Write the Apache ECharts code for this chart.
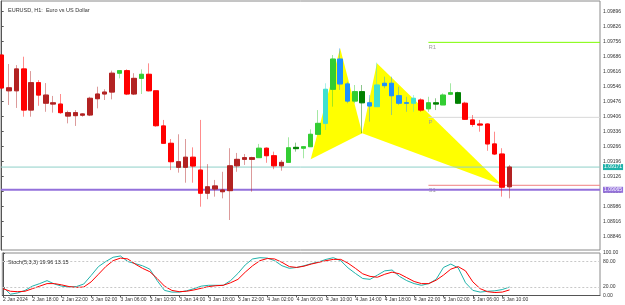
<!DOCTYPE html>
<html>
<head>
<meta charset="utf-8">
<script src="https://cdn.jsdelivr.net/npm/echarts@6/dist/echarts.min.js"></script>
<style>
  html, body { margin: 0; padding: 0; background: #fff; }
  #main { width: 625px; height: 305px; }
</style>
</head>
<body>
<div id="main"></div>
<script>
// EURUSD H1 candles, 2 Jan 14:00 .. 5 Jan 11:00
const opens = [1.09694, 1.09527, 1.09527, 1.09629, 1.09437, 1.09565, 1.09469, 1.09465, 1.09465, 1.09409,
  1.09411, 1.09413, 1.09414, 1.09490, 1.09512, 1.09521, 1.09609, 1.09621, 1.09512, 1.09585,
  1.09604, 1.09527, 1.09363, 1.09282, 1.09170, 1.09170, 1.09217, 1.09157, 1.09049, 1.09069,
  1.09056, 1.09061, 1.09177, 1.09207, 1.09207, 1.09215, 1.09259, 1.09224, 1.09177, 1.09193,
  1.09263, 1.09259, 1.09266, 1.09324, 1.09375, 1.09534, 1.09675, 1.09559, 1.09479, 1.09523,
  1.09471, 1.09453, 1.09562, 1.09562, 1.09504, 1.09471, 1.09469, 1.09484, 1.09443, 1.09471,
  1.09461, 1.09511, 1.09518, 1.09469, 1.09391, 1.09372, 1.09372, 1.09279, 1.09232, 1.09079]
const highs = [1.09694, 1.09652, 1.09647, 1.09686, 1.09619, 1.09577, 1.09563, 1.09503, 1.09512, 1.09434,
  1.09437, 1.09422, 1.09499, 1.09546, 1.09534, 1.09621, 1.09621, 1.09627, 1.09609, 1.09627,
  1.09655, 1.09527, 1.09391, 1.09302, 1.09324, 1.09302, 1.09263, 1.09391, 1.09185, 1.09111,
  1.09149, 1.09259, 1.09237, 1.09232, 1.09219, 1.09279, 1.09263, 1.09243, 1.09204, 1.09310,
  1.09285, 1.09269, 1.09347, 1.09437, 1.09562, 1.09694, 1.09725, 1.09569, 1.09554, 1.09554,
  1.09507, 1.09658, 1.09593, 1.09593, 1.09546, 1.09499, 1.09507, 1.09492, 1.09499, 1.09492,
  1.09515, 1.09562, 1.09523, 1.09476, 1.09414, 1.09391, 1.09375, 1.09336, 1.09259, 1.09181]
const lows = [1.09536, 1.09461, 1.09447, 1.09406, 1.09406, 1.09457, 1.09429, 1.09425, 1.09419, 1.09375,
  1.09363, 1.09406, 1.09409, 1.09445, 1.09484, 1.09487, 1.09585, 1.09507, 1.09507, 1.09512,
  1.09524, 1.09359, 1.09280, 1.09157, 1.09145, 1.09098, 1.09098, 1.08986, 1.09021, 1.09033,
  1.09025, 1.08924, 1.09149, 1.09181, 1.09056, 1.09215, 1.09191, 1.09161, 1.09154, 1.09193,
  1.09243, 1.09212, 1.09266, 1.09321, 1.09344, 1.09453, 1.09531, 1.09469, 1.09469, 1.09329,
  1.09383, 1.09453, 1.09539, 1.09414, 1.09461, 1.09429, 1.09429, 1.09429, 1.09429, 1.09437,
  1.09461, 1.09507, 1.09465, 1.09391, 1.09359, 1.09336, 1.09247, 1.09227, 1.09033, 1.09025]
const closes = [1.09540, 1.09541, 1.09629, 1.09437, 1.09565, 1.09507, 1.09507, 1.09471, 1.09425, 1.09425,
  1.09425, 1.09419, 1.09492, 1.09512, 1.09521, 1.09609, 1.09621, 1.09512, 1.09585, 1.09604,
  1.09527, 1.09364, 1.09282, 1.09196, 1.09196, 1.09217, 1.09176, 1.09049, 1.09079, 1.09083,
  1.09064, 1.09177, 1.09207, 1.09215, 1.09215, 1.09259, 1.09224, 1.09177, 1.09193, 1.09261,
  1.09257, 1.09266, 1.09324, 1.09375, 1.09534, 1.09675, 1.09559, 1.09479, 1.09523, 1.09471,
  1.09456, 1.09554, 1.09551, 1.09504, 1.09469, 1.09469, 1.09492, 1.09437, 1.09471, 1.09465,
  1.09507, 1.09518, 1.09469, 1.09394, 1.09370, 1.09367, 1.09279, 1.09232, 1.09077, 1.09171]
// candle colour state from the indicator: R down, r up (down regime), G up, g down (up regime), B down, T up (strong)
const states = ['R','r','r','R','r','R','r','r','R','r',
  'r','r','r','r','r','r','G','R','r','G',
  'R','R','R','R','r','r','R','R','r','r',
  'r','r','r','r','r','G','R','R','r','G',
  'g','G','G','G','T','G','B','B','G','g',
  'B','T','B','B','B','B','T','R','G','g',
  'G','G','g','R','R','R','R','R','R','r']

// Stoch(5,3,3)
const stochMain = [20, 3, 6, 12, 22, 28, 35, 27, 22, 20, 21, 27, 47, 68, 80, 90, 93, 80, 75, 70,
  62, 35, 12, 8, 8, 11, 16, 22, 24, 24, 24, 35, 52, 72, 86, 89, 88, 82, 70, 64,
  66, 70, 75, 79, 85, 89, 82, 65, 52, 40, 38, 48, 58, 60, 45, 35, 28, 24, 28, 38,
  66, 74, 65, 30, 12, 8, 10, 11, 14, 19.96]
const stochSignal = [16, 10, 9, 10, 16, 22, 28, 28, 25, 21, 19, 20, 32, 50, 68, 82, 88, 86, 74, 64,
  56, 40, 22, 12, 9, 10, 13, 17, 21, 23, 24, 30, 38, 55, 70, 82, 87, 86, 78, 68,
  66, 69, 74, 78, 82, 85, 85, 76, 64, 51, 45, 43, 50, 55, 51, 42, 33, 28, 28, 36,
  48, 62, 68, 58, 32, 16, 9, 7, 8, 13.15]

// harmonic pattern X A B C D (bar index, price)
const patternIdx = [42, 46, 49, 51, 68]
const patternPrice = [1.09207, 1.09725, 1.09329, 1.09655, 1.09087]

// daily pivots from 5 Jan 00:00
const pivotStart = 58
const pivotNames = ['R1', 'P', 'S1']
const pivotValues = [1.09753, 1.09403, 1.09086]
const hLine = 1.09065

// axis labels
const priceTicks = [1.08846, 1.08916, 1.08986, 1.09056, 1.09126, 1.09196, 1.09266, 1.09336,
  1.09406, 1.09476, 1.09546, 1.09616, 1.09686, 1.09756, 1.09826, 1.09896]
const stochTicks = [0, 20, 80, 100]
const timeTicks = [0, 4, 8, 12, 16, 20, 24, 28, 32, 36, 40, 44, 48, 52, 56, 60, 64, 68]
const timeLabels = ['2 Jan 2024', '2 Jan 18:00', '2 Jan 22:00', '3 Jan 02:00', '3 Jan 06:00', '3 Jan 10:00',
  '3 Jan 14:00', '3 Jan 18:00', '3 Jan 22:00', '4 Jan 02:00', '4 Jan 06:00', '4 Jan 10:00',
  '4 Jan 14:00', '4 Jan 18:00', '4 Jan 22:00', '5 Jan 02:00', '5 Jan 06:00', '5 Jan 10:00']

const stateColor = { R: '#ff0000', r: '#b22222', G: '#32cd32', g: '#008000', B: '#1e90ff', T: '#40e0d0' }
const pivotColor = { R1: '#7cfc00', P: '#d8d8d8', S1: '#f08080' }
const font = 'Liberation Sans, Arial, sans-serif'

function rgba(hex, a) {
  const n = parseInt(hex.slice(1), 16)
  return 'rgba(' + (n >> 16) + ',' + ((n >> 8) & 255) + ',' + (n & 255) + ',' + a + ')'
}

const xMin = -0.095
const xMax = 81.32

let myChart = echarts.init(document.getElementById('main'))

const wickData = opens.map((o, i) => {
  const c = rgba(stateColor[states[i]], 0.45)
  return {
    value: [i, o, closes[i], lows[i], highs[i]],
    itemStyle: { color: 'transparent', color0: 'transparent', borderColor: c, borderColor0: c }
  }
})
const bodyData = opens.map((o, i) => {
  const c = stateColor[states[i]]
  return {
    value: [i, o, closes[i], Math.min(o, closes[i]), Math.max(o, closes[i])],
    itemStyle: { color: c, color0: c, borderColor: c, borderColor0: c }
  }
})

const lastClose = closes[closes.length - 1]

const pivotSeries = pivotNames.map((name, k) => ({
  type: 'line',
  xAxisIndex: 0,
  yAxisIndex: 0,
  symbol: 'circle',
  symbolSize: 0.1,
  showSymbol: true,
  silent: true,
  z: 1,
  lineStyle: { color: pivotColor[name], width: 1 },
  itemStyle: { color: pivotColor[name] },
  data: [
    { value: [pivotStart, pivotValues[k]], label: { show: true, formatter: name, position: [0, 2], color: '#a0a0a0', fontSize: 6, fontFamily: font } },
    [xMax, pivotValues[k]]
  ]
}))

// full-width level lines with their price tag on the scale
function levelLine(value, lineColor, tagColor, width) {
  return {
    type: 'line',
    xAxisIndex: 0,
    yAxisIndex: 0,
    silent: true,
    symbol: 'none',
    z: 2,
    lineStyle: { color: lineColor, width: width },
    data: [[xMin, value], [xMax, value]],
    endLabel: {
      show: true, formatter: value.toFixed(5), distance: 3, color: '#fff', backgroundColor: tagColor,
      padding: [1, 1, 0, 1], fontSize: 5, fontFamily: font
    }
  }
}

const options = {
  animation: false,
  backgroundColor: '#ffffff',
  title: [
    { text: 'EURUSD, H1:  Euro vs US Dollar', left: 3, top: 2, textStyle: { fontSize: 5.5, fontWeight: 'normal', color: '#333', fontFamily: font } },
    { text: 'Stoch(5,3,3) ' + stochMain[stochMain.length - 1].toFixed(2) + ' ' + stochSignal[stochSignal.length - 1].toFixed(2),
      left: 3, top: 254, textStyle: { fontSize: 5.5, fontWeight: 'normal', color: '#333', fontFamily: font } }
  ],
  grid: [
    { left: 1, right: 25, top: 1, height: 249, show: true, borderColor: '#8a8a8a', borderWidth: 1 },
    { left: 1, right: 25, top: 253, height: 42.5, show: true, borderColor: '#8a8a8a', borderWidth: 1 }
  ],
  xAxis: [
    { type: 'value', gridIndex: 0, min: xMin, max: xMax, show: false },
    {
      type: 'value', gridIndex: 1, min: xMin, max: xMax, position: 'bottom',
      axisLine: { show: true, lineStyle: { color: '#555' } },
      axisTick: { show: true, length: 2, customValues: timeTicks, lineStyle: { color: '#555' } },
      axisLabel: {
        customValues: timeTicks, align: 'left', margin: 2, fontSize: 5, color: '#333', fontFamily: font,
        formatter: v => timeLabels[timeTicks.indexOf(Math.round(v))] || ''
      },
      splitLine: { show: false }
    }
  ],
  yAxis: [
    {
      type: 'value', gridIndex: 0, position: 'right', min: 1.08784, max: 1.09946,
      axisLine: { show: true, lineStyle: { color: '#555' } },
      axisTick: { show: true, length: 2, customValues: priceTicks, lineStyle: { color: '#555' } },
      axisLabel: { customValues: priceTicks, margin: 3, fontSize: 5, color: '#333', fontFamily: font, formatter: v => v.toFixed(5) },
      splitLine: { show: false }
    },
    {
      type: 'value', gridIndex: 1, position: 'right', min: 0, max: 100,
      axisLine: { show: true, lineStyle: { color: '#555' } },
      axisTick: { show: true, length: 2, customValues: stochTicks, lineStyle: { color: '#555' } },
      axisLabel: { customValues: stochTicks, margin: 3, fontSize: 5, color: '#333', fontFamily: font, formatter: v => v.toFixed(2) },
      splitLine: { show: false }
    }
  ],
  series: [
    {
      // pattern triangles XAB and BCD
      type: 'custom',
      xAxisIndex: 0,
      yAxisIndex: 0,
      z: 1,
      silent: true,
      encode: { x: [0, 2, 4], y: [1, 3, 5] },
      data: [
        [patternIdx[0], patternPrice[0], patternIdx[1], patternPrice[1], patternIdx[2], patternPrice[2]],
        [patternIdx[2], patternPrice[2], patternIdx[3], patternPrice[3], patternIdx[4], patternPrice[4]]
      ],
      renderItem: (params, api) => {
        const pts = [0, 1, 2].map(k => api.coord([api.value(k * 2), api.value(k * 2 + 1)]))
        return { type: 'polygon', shape: { points: pts }, style: { fill: '#ffff00' } }
      }
    },
    ...pivotSeries,
    levelLine(lastClose, '#8fd0c8', '#20b2aa', 1),
    levelLine(hLine, '#9370db', '#9370db', 2),
    {
      // wicks
      type: 'candlestick',
      xAxisIndex: 0,
      yAxisIndex: 0,
      barWidth: 5,
      z: 3,
      silent: true,
      encode: { x: 0, y: [1, 2, 3, 4] },
      itemStyle: { borderWidth: 1 },
      data: wickData
    },
    {
      // bodies
      type: 'candlestick',
      xAxisIndex: 0,
      yAxisIndex: 0,
      barWidth: 5,
      z: 4,
      silent: true,
      encode: { x: 0, y: [1, 2, 3, 4] },
      itemStyle: { borderWidth: 1 },
      data: bodyData
    },
    {
      type: 'line',
      xAxisIndex: 1,
      yAxisIndex: 1,
      symbol: 'none',
      silent: true,
      lineStyle: { color: '#20b2aa', width: 1 },
      data: stochMain.map((v, i) => [i, v]),
      markLine: {
        silent: true,
        symbol: 'none',
        label: { show: false },
        lineStyle: { color: '#c8c8c8', width: 1, type: [2, 2] },
        data: [{ yAxis: 20 }, { yAxis: 80 }]
      }
    },
    {
      type: 'line',
      xAxisIndex: 1,
      yAxisIndex: 1,
      symbol: 'none',
      silent: true,
      lineStyle: { color: '#ff0000', width: 1 },
      data: stochSignal.map((v, i) => [i, v])
    }
  ]
}

options && myChart.setOption(options)
</script>
</body>
</html>
